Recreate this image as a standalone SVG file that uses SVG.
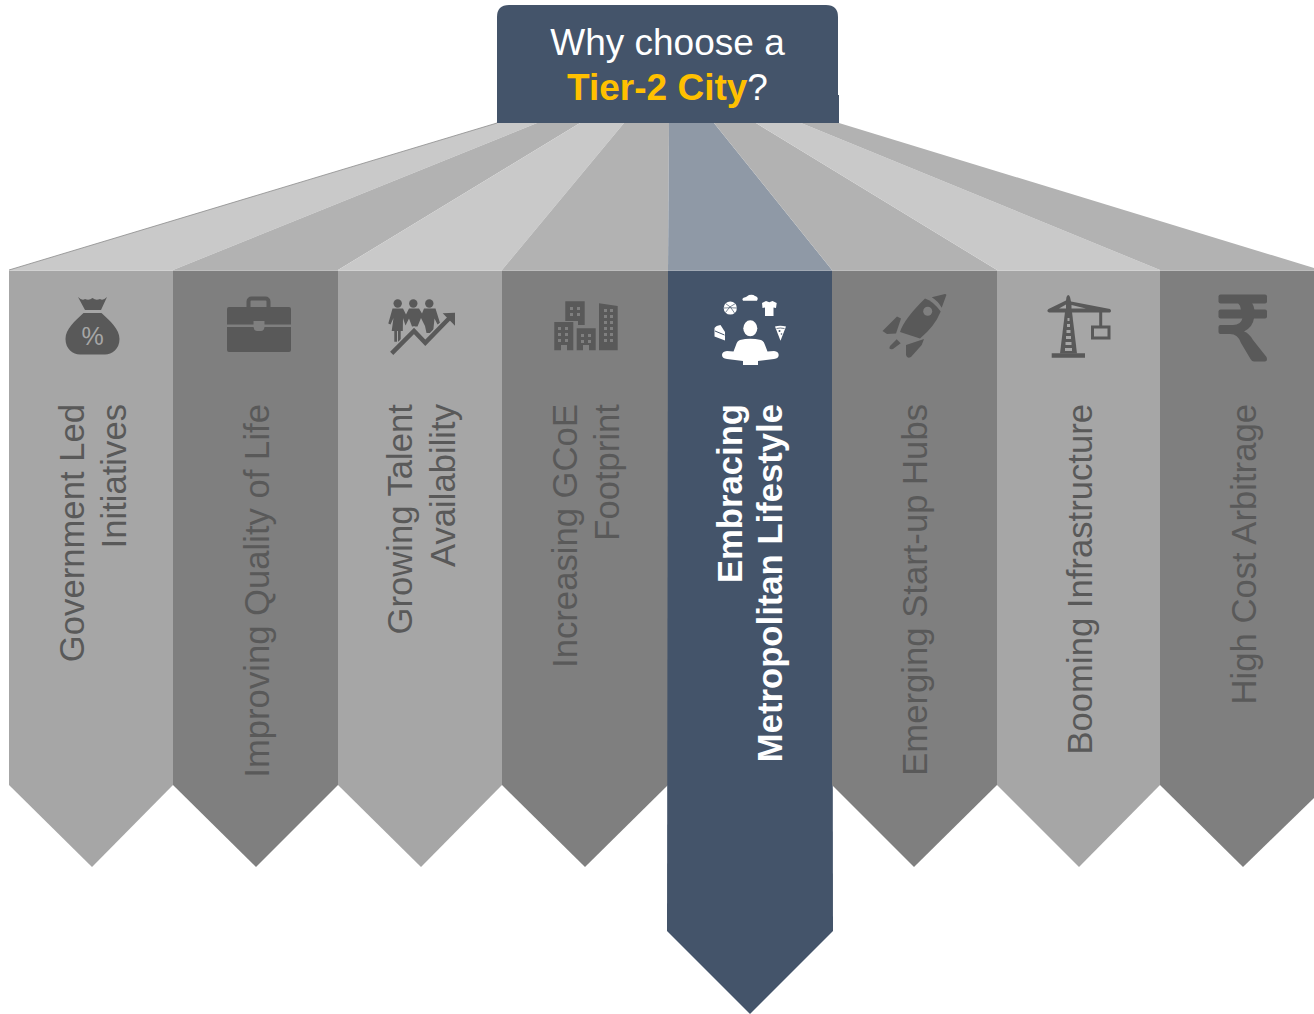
<svg xmlns="http://www.w3.org/2000/svg" width="1314" height="1014" viewBox="0 0 1314 1014">
<style>
text{font-family:"Liberation Sans",Arial,sans-serif}
.l{fill:#a6a6a6}.d{fill:#7f7f7f}.n{fill:#44546a}
.fl{fill:#c9c9c9}.fd{fill:#b2b2b2}.fn{fill:#8f99a6}
.i{fill:#595959}.w{fill:#fff}
.t{font-size:34.67px;fill:#595959;text-anchor:end}
.tb{font-size:34.67px;fill:#fff;font-weight:bold;text-anchor:end}
</style>
<rect width="1314" height="1014" fill="#fff"/>
<g id="connectors">
<polygon class="fl" points="497,123 537,123 173,270 9,270"/>
<polygon class="fd" points="537,123 580,123 338,270 173,270"/>
<polygon class="fl" points="580,123 624,123 502,270 338,270"/>
<polygon class="fd" points="624,123 669,123 668,270 502,270"/>
<polygon class="fn" points="669,123 714,123 832,270 668,270"/>
<polygon class="fd" points="714,123 756,123 997,270 832,270"/>
<polygon class="fl" points="756,123 801,123 1160,270 997,270"/>
<polygon class="fd" points="801,123 839,123 1314,268 1314,270 1160,270"/>
<path d="M497 123L9 270" stroke="#8c8c8c" stroke-width=".8" fill="none"/>
</g>
<g id="title">
<path class="n" d="M497 123V17Q497 5 509 5H826Q838 5 838 17V95H839V123Z"/>
<text x="667.500" y="55" font-size="37" fill="#fff" text-anchor="middle">Why choose a</text>
<text x="667.500" y="100" font-size="37" fill="#fff" text-anchor="middle"><tspan font-weight="bold" fill="#ffc000">Tier-2 City</tspan>?</text>
</g>
<g id="node-government">
<polygon class="l" points="9,270.500 173,270.500 173,785 92,867 9,785"/>
<path class="i" d="M78 297Q82 301 85 299Q89 301 92.500 298Q96 301 100 299Q103 301 107 297L101 310H85Z"/>
<path class="i" d="M83.500 313H101.500C110 321 119.500 329 119.500 339C119.500 349 112 354.500 105 354.500H80C73 354.500 65.500 349 65.500 339C65.500 329 75 321 83.500 313Z"/>
<text x="92.500" y="344.500" font-size="25" text-anchor="middle" fill="#a6a6a6">%</text>
<text class="t" transform="translate(84,404) rotate(-90)">Government Led</text>
<text class="t" transform="translate(126,404) rotate(-90)">Initiatives</text>
</g>
<g id="node-quality">
<polygon class="d" points="173,270.500 338,270.500 338,785 256,867 173,785"/>
<rect x="248.500" y="298.500" width="20" height="12" rx="3" fill="none" stroke="#595959" stroke-width="4"/>
<path class="i" d="M229 307H289Q291 307 291 309V324.500H264.500V321H253.500V324.500H227V309Q227 307 229 307ZM227 327H253.500Q254 331 257 331H261Q264 331 264.500 327H291V350Q291 352 289 352H229Q227 352 227 350Z"/>
<text class="t" transform="translate(269,404) rotate(-90)">Improving Quality of Life</text>
</g>
<g id="node-talent">
<polygon class="l" points="338,270.500 502,270.500 502,785 421,867 338,785"/>
<circle class="i" cx="397.700" cy="303.500" r="4.200"/><circle class="i" cx="413.300" cy="303.500" r="4.200"/><circle class="i" cx="429.300" cy="303.500" r="4.200"/>
<path class="i" d="M392.500 308.500H403L406 314.500L409 308.500H419L422 313.500L424 308.500H435.500L440 323L437.500 324.500L434.500 318.500L433 333H426.500L425 326L421 318L417.500 326.500H412L409 318.500L405.500 325.500L403 318L402.800 331H400.700V341.700H398V331H397V341.700H394.300V331H391.700L393.500 318L390.500 324.500L388.300 323.500Z"/>
<path d="M391.700 353.300L414 331 425.300 342.700 449 318.500" fill="none" stroke="#a6a6a6" stroke-width="7"/>
<path d="M391.700 353.300L414 331 425.300 342.700 449 318.500" fill="none" stroke="#595959" stroke-width="4.500"/>
<polygon class="i" points="442.700,313.300 455,312.700 455,325.700"/>
<text class="t" transform="translate(412,404) rotate(-90)">Growing Talent</text>
<text class="t" transform="translate(455,404) rotate(-90)">Availability</text>
</g>
<g id="node-gcoe">
<polygon class="d" points="502,270.500 668,270.500 668,785 585,867 502,785"/>
<path class="i" d="M554.300 322H573.300V350.300H567V345H561V350.300H554.300ZM565.300 301.300H584.700V325H578V321H565.300ZM576.700 328.300H595.700V350.300H589V345H583V350.300H576.700ZM599 303.300L617.700 306V350.300H599Z"/>
<g fill="#7f7f7f">
<path d="M558 327h3v3h-3zM565 327h3v3h-3zM558 333h3v3h-3zM565 333h3v3h-3zM558 339h3v3h-3zM565 339h3v3h-3z"/>
<path d="M570 307h3v3h-3zM577 307h3v3h-3zM570 313h3v3h-3zM577 313h3v3h-3z"/>
<path d="M581 334h3v3h-3zM588 334h3v3h-3zM581 340h3v3h-3zM588 340h3v3h-3z"/>
<path d="M604 309h3v3h-3zM610 309h3v3h-3zM604 315h3v3h-3zM610 315h3v3h-3zM604 321h3v3h-3zM610 321h3v3h-3zM604 327h3v3h-3zM610 327h3v3h-3zM604 333h3v3h-3zM610 333h3v3h-3zM604 339h3v3h-3zM610 339h3v3h-3z"/>
</g>
<text class="t" transform="translate(577,404) rotate(-90)">Increasing GCoE</text>
<text class="t" transform="translate(619,404) rotate(-90)">Footprint</text>
</g>
<g id="node-lifestyle">
<polygon class="n" points="668,270.500 832,270.500 833,931 750,1014 667,931"/>
<ellipse class="w" cx="750.300" cy="328.300" rx="7" ry="8"/>
<path class="w" d="M740 340Q750 337.500 761 340Q764 341 765 345L767.500 351.500L774 351Q778.700 351.500 778.700 355Q778.700 358.500 774 359L758 361V365H743V361L727 359Q722 358.500 722 355Q722 351.500 727 351L733.500 351.500L736 345Q737 341 740 340Z"/>
<circle class="w" cx="730.300" cy="308" r="6.600"/>
<path d="M725.500 303.500Q731 306 734.500 313M735.500 303.500Q729 306 725.500 312.500M724 308Q730 307.500 737 308" stroke="#44546a" stroke-width=".7" fill="none"/>
<path class="w" d="M742.300 299Q743 297.300 746 297L749 295Q753 294 755 296Q758 297 757.700 299L757 300.700H743Z"/>
<path class="w" d="M766 301L769.300 302.300L772.500 301L776.700 303L776 308L773.500 307.500V316H765V307.500L762.500 308L762 303Z"/>
<path class="w" d="M714.500 328Q716 325.500 720.500 325L725 332V340.500L714.500 336.500Z"/>
<path d="M715 331L724.500 335" stroke="#44546a" stroke-width="1"/>
<path class="w" d="M775 326.500Q780 324.800 786 326.500L780.500 340.700Z"/>
<path d="M776.500 328.500Q780 327.500 784.500 328.500" stroke="#44546a" stroke-width=".8" fill="none"/>
<circle cx="779.500" cy="331" r="1" fill="#44546a"/><circle cx="781.500" cy="334" r=".8" fill="#44546a"/>
<text class="tb" transform="translate(742,404) rotate(-90)">Embracing</text>
<text class="tb" transform="translate(782,404) rotate(-90)">Metropolitan Lifestyle</text>
</g>
<g id="node-startup">
<polygon class="d" points="832,270.500 997,270.500 997,785 914,867 832,785"/>
<path class="i" d="M925 298.500Q933 301 940.700 311.500Q935 326 920 338.500L900 332Q904 319 925 298.500Z"/>
<circle cx="927.700" cy="311.300" r="4.500" fill="#7f7f7f"/>
<path class="i" d="M931.700 297.300L945 294Q947 294 946 296L941.700 307.700Q938 301 931.700 297.300Z"/>
<path class="i" d="M882.500 331L897 316.500L901 318.500L896 333.500L887 334Z"/>
<path class="i" d="M890 346L896.700 339.300L900.700 343.300L893 349Q888 350 890 346Z"/>
<path class="i" d="M906 345L924 339L921.700 345L911 357Q907 359 906 355Z"/>
<text class="t" transform="translate(927,404) rotate(-90)">Emerging Start-up Hubs</text>
</g>
<g id="node-infrastructure">
<polygon class="l" points="997,270.500 1160,270.500 1160,785 1079,867 997,785"/>
<path class="i" d="M1051.700 353.300H1085V357.700H1051.700ZM1066.500 297Q1068.300 293 1070 297L1071 301.500 1110 309Q1112 311 1110 312.500H1049Q1046 311 1048.500 309L1066 300.500Z"/>
<path class="i" d="M1065 312H1072L1077 353.500H1060Z"/>
<path d="M1059 308.500L1066 304.500V308.500ZM1071.500 305L1086 308.500H1071.500Z" fill="#a6a6a6"/>
<path d="M1067.500 318h2v3h-2zM1067 324h3v3h-3zM1066.500 330h4v3h-4zM1066 336h5v3h-5zM1065.500 342h6v3h-6zM1065 348h7v3h-7z" fill="#a6a6a6"/>
<path d="M1100.700 311V327" stroke="#595959" stroke-width="3"/>
<rect x="1092.500" y="327" width="16.500" height="11" fill="none" stroke="#595959" stroke-width="3"/>
<text class="t" transform="translate(1092,404) rotate(-90)">Booming Infrastructure</text>
</g>
<g id="node-arbitrage">
<polygon class="d" points="1160,270.500 1314,270.500 1314,798 1243,867 1160,785"/>
<rect class="i" x="1218.500" y="294.500" width="48.500" height="9" rx="2"/>
<rect class="i" x="1218.500" y="309.500" width="48.500" height="9" rx="2"/>
<path class="i" d="M1220.500 325H1233Q1241 325 1242.500 318H1254Q1253 327 1244 331.500Q1249 333 1253 340L1266.500 357Q1268 361 1265 361.500H1254Q1252 361.500 1250.500 359L1241 343Q1238 334 1230 334H1220.500Q1218.500 334 1218.500 332V327Q1218.500 325 1220.500 325ZM1238 303H1252Q1254 306 1254.500 310H1241Q1241 306 1238 303Z"/>
<text class="t" transform="translate(1256,404) rotate(-90)">High Cost Arbitrage</text>
</g>
</svg>
